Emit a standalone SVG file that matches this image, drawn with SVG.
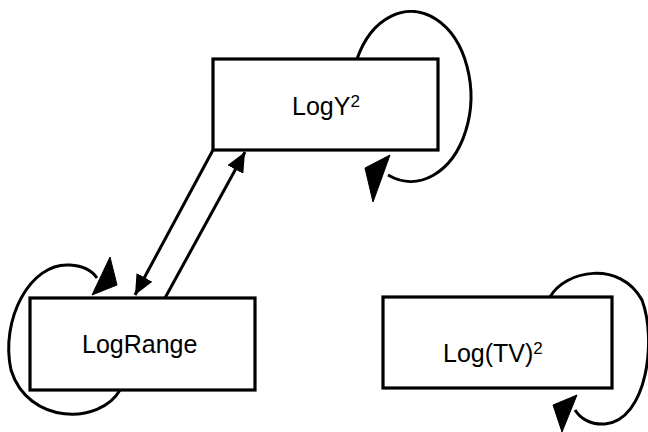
<svg xmlns="http://www.w3.org/2000/svg" width="648" height="432" viewBox="0 0 648 432">
<style>
.box{fill:#fff;stroke:#000;stroke-width:3.2}
.lbl{font-family:"Liberation Sans",Arial,sans-serif;font-size:25px;fill:#000}
.sup{font-size:17px}
.edge{fill:none;stroke:#000;stroke-width:3}
.head{fill:#000;stroke:#000;stroke-width:1}
</style>
<defs>
<marker id="arr" markerUnits="userSpaceOnUse" markerWidth="22" markerHeight="18" refX="20" refY="9" orient="auto">
<path d="M0,0 L20,9 L0,18 z" fill="#000"/>
</marker>
</defs>
<rect width="648" height="432" fill="#fff"/>
<g id="connectors">
<path class="edge" d="M357,59 A60,85 0 1,1 388,175"/>
<polygon class="head" points="365,168 390,155 373,202"/>
<path class="edge" d="M120,390 C100,425 28,425 11,370 C0,320 30,262 70,265 C85,266 93,272 97,278"/>
<polygon class="head" points="110,257 117,285 92,295"/>
<path class="edge" d="M550,297 C565,270 620,260 642,300 C657,340 647,420 605,424 C590,425 580,418 575,410"/>
<polygon class="head" points="553,405 577,395 562,432"/>
<line class="edge" x1="213" y1="150" x2="135" y2="295" marker-end="url(#arr)"/>
<line class="edge" x1="165" y1="298" x2="245" y2="152" marker-end="url(#arr)"/>
</g>
<g id="logy2">
<rect class="box" x="213" y="59" width="225" height="91"/>
<text class="lbl" x="292" y="115">LogY<tspan class="sup" dy="-8">2</tspan></text>
</g>
<g id="lograng">
<rect class="box" x="30" y="298" width="225" height="92"/>
<text class="lbl" x="82" y="353">LogRange</text>
</g>
<g id="logtv2">
<rect class="box" x="383" y="297" width="229" height="91"/>
<text class="lbl" x="443" y="362">Log(TV)<tspan class="sup" dy="-8">2</tspan></text>
</g>
</svg>
